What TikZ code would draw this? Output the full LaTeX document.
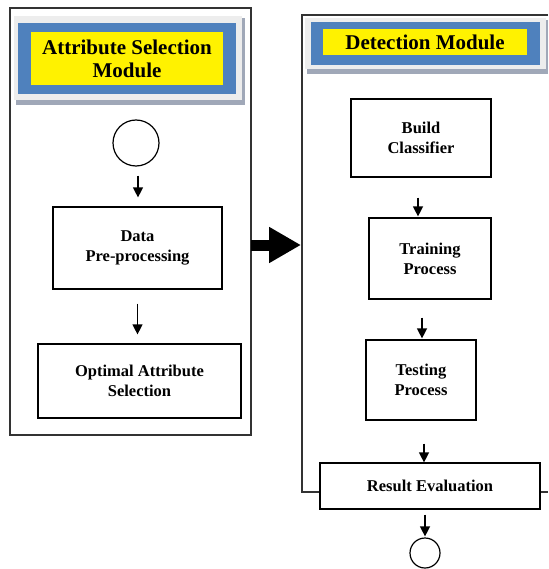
\documentclass[tikz,border=0pt]{standalone}
\usepackage{fontspec}
\setmainfont{Liberation Serif}
\newfontfamily\diagfont{Liberation Serif}
\usetikzlibrary{arrows.meta}
\definecolor{headblue}{RGB}{79,129,189}
\definecolor{headshade}{RGB}{160,168,184}
\tikzset{
    panel/.style={draw=black!80, line width=1.4pt},
    box/.style={draw, line width=1.2pt, fill=white, align=center,
        font=\diagfont\fontsize{16.5}{20}\selectfont\bfseries},
    ring/.style={draw, circle, line width=1.2pt, fill=white, inner sep=0pt},
    flow/.style={line width=1.3pt, -{Triangle[length=10pt,width=10pt]}},
    headtext/.style={fill=yellow, align=center, inner sep=0pt,
        font=\diagfont\fontsize{21}{23}\selectfont\bfseries}
}
\begin{document}
\begin{tikzpicture}[x=1pt,y=-1pt]
    \useasboundingbox (0,0) rectangle (548,569);

    % left module
    \draw[panel] (10,8) rectangle (251,435);
    \fill[headshade] (16,18) rectangle (245,105);
    \fill[black!7] (14,16) rectangle (242,100);
    \fill[headblue] (18,23) rectangle (236,94);
    \node[headtext, minimum width=192pt, minimum height=53pt]
        (asmtitle) at (127,58.5) {Attribute Selection\\Module};

    \node[ring, minimum size=46pt] (start) at (136,143) {};
    \node[box, minimum width=169pt, minimum height=82pt]
        (prep) at (137.5,248) {Data\\Pre-processing};
    \node[box, minimum width=203pt, minimum height=74pt]
        (optsel) at (139.5,381) {Optimal Attribute\\Selection};

    % detection module
    \draw[panel] (548,15) -- (302,15) -- (302,492) -- (320,492);
    \draw[panel] (540,492) -- (548,492);
    \fill[headshade] (307,20) rectangle (548,74);
    \fill[black!7] (305,18) rectangle (546,69);
    \fill[headblue] (311,22) rectangle (540,65);
    \node[headtext, minimum width=204pt, minimum height=26pt]
        (dmtitle) at (425,42) {Detection Module};

    \node[box, minimum width=140pt, minimum height=78pt]
        (build) at (421,138) {Build\\Classifier};
    \node[box, minimum width=122pt, minimum height=81pt]
        (train) at (430,258.5) {Training\\Process};
    \node[box, minimum width=110pt, minimum height=80pt]
        (test) at (421,380) {Testing\\Process};
    \node[box, minimum width=220pt, minimum height=46pt]
        (result) at (430,486) {Result Evaluation};
    \node[ring, minimum size=30pt] (stop) at (425,553) {};

    % arrows
    \draw[flow, shorten <=9pt, shorten >=9pt]
        ([xshift=2pt]start.south) -- ([xshift=2pt]start.south |- prep.north);
    \draw[flow, shorten <=14pt, shorten >=9pt]
        (prep.south) -- (prep.south |- optsel.north);
    \draw[flow, shorten <=20pt, shorten >=1pt]
        ([xshift=-3pt]build.south) -- ([xshift=-3pt]build.south |- train.north);
    \draw[flow, shorten <=18pt, shorten >=1pt]
        ([xshift=1pt]test.north |- train.south) -- ([xshift=1pt]test.north);
    \draw[flow, shorten <=23pt, shorten >=0pt]
        ([xshift=3pt]test.south) -- ([xshift=3pt]test.south |- result.north);
    \draw[flow, shorten <=5pt, shorten >=1pt]
        (stop.north |- result.south) -- (stop.north);

    % module link
    \coordinate (linkstart) at (251,245);
    \coordinate (linkend) at (301,245);
    \draw[line width=11pt, -{Triangle[length=32pt,width=34pt]}]
        (linkstart) -- (linkend);
\end{tikzpicture}
\end{document}
